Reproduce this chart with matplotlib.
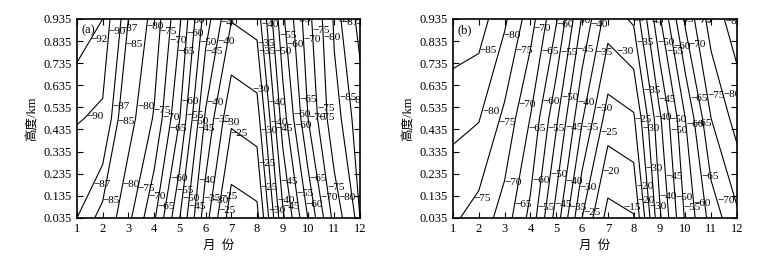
import matplotlib.pyplot as plt
import numpy as np

plt.rcParams['font.family'] = ['Liberation Serif', 'Noto Sans CJK SC']

months = np.arange(1, 13)
heights = [0.035, 0.485, 0.935]
yticks = [0.035, 0.135, 0.235, 0.335, 0.435, 0.535, 0.635, 0.735, 0.835, 0.935]

# panel (a) values, rows = heights (bottom, middle, top)
a_bottom = [87, 84.1, 76.3, 65.8, 50, 32, 17, 18.5, 44, 60.5, 76.7, 87]
a_middle = [90.2, 89.5, 82.1, 74.5, 60, 39.2, 25.9, 27.6, 52.5, 70.3, 83.7, 88.5]
a_top = [93.4, 92, 85, 78.3, 65.6, 47.5, 35.3, 37, 59, 73.5, 85.6, 91]
a_levels = [20, 25, 30, 35, 40, 45, 50, 55, 60, 65, 70, 75, 80, 85, 87, 90, 92]

# panel (b) values
b_bottom = [75.8, 73, 67.7, 58.5, 42.9, 25, 13.1, 14.6, 39, 55.7, 67, 74]
b_middle = [81.5, 80.3, 73.8, 64.8, 51, 35.5, 22.6, 24.3, 44, 60, 75, 82]
b_top = [88.5, 87.5, 80.9, 72.3, 60.6, 44.5, 32.4, 35.8, 54.2, 71, 82.4, 87.5]
b_levels = [15, 20, 25, 30, 35, 40, 45, 50, 55, 60, 65, 70, 75, 80, 85]

# where the contour labels sit (month, height)
a_spots = [(1.58, 0.84), (2.13, 0.88), (2.75, 0.89), (2.87, 0.82), (3.76, 0.90),
           (4.34, 0.875), (4.54, 0.84), (4.88, 0.79), (5.27, 0.93), (5.39, 0.87),
           (5.78, 0.83), (5.9, 0.79), (6.44, 0.92), (6.56, 0.83),
           (1.3, 0.5), (2.28, 0.54), (2.55, 0.47), (3.33, 0.54), (3.96, 0.52),
           (4.35, 0.49), (4.54, 0.44), (5.0, 0.56), (5.2, 0.5), (5.47, 0.47),
           (5.66, 0.44), (5.95, 0.56), (6.25, 0.48), (6.63, 0.465), (6.87, 0.42),
           (7.83, 0.62), (7.8, 0.785), (8.04, 0.825), (8.23, 0.91), (8.97, 0.86),
           (8.7, 0.79), (9.2, 0.82), (9.35, 0.93), (9.78, 0.84), (10.17, 0.885),
           (10.44, 0.85), (10.83, 0.93), (11.4, 0.92), (11.8, 0.91),
           (8.5, 0.56), (9.6, 0.57), (10.3, 0.53), (11.2, 0.58), (11.9, 0.57),
           (9.28, 0.5), (8.42, 0.465), (8.19, 0.43), (8.7, 0.44), (9.55, 0.455),
           (9.98, 0.49), (10.44, 0.49), (8.04, 0.28),
           (1.5, 0.193), (1.9, 0.115), (2.87, 0.185), (3.25, 0.17), (3.77, 0.13),
           (4.1, 0.085), (4.5, 0.215), (4.85, 0.16), (5.1, 0.125), (5.3, 0.085),
           (5.59, 0.207), (5.9, 0.125), (6.25, 0.115), (6.4, 0.07), (6.75, 0.13),
           (7.92, 0.17), (8.9, 0.2), (10.06, 0.215), (8.8, 0.115), (9.55, 0.145),
           (10.7, 0.17), (8.5, 0.07), (9.0, 0.085), (9.86, 0.094), (10.37, 0.125),
           (11.2, 0.13)]

b_spots = [(1.97, 0.795), (3.0, 0.86), (3.5, 0.79), (4.25, 0.89), (4.5, 0.785),
           (5.03, 0.91), (5.15, 0.785), (5.65, 0.93), (5.8, 0.795), (6.4, 0.91),
           (6.5, 0.785), (7.2, 0.77), (7.67, 0.93), (8.5, 0.93), (8.13, 0.83),
           (8.83, 0.825), (9.2, 0.785), (9.6, 0.81), (9.53, 0.93), (10.07, 0.82),
           (10.18, 0.93), (10.55, 0.93), (11.47, 0.92),
           (2.05, 0.52), (3.6, 0.545), (4.5, 0.56), (5.15, 0.58), (5.73, 0.56),
           (2.82, 0.465), (3.98, 0.44), (4.64, 0.44), (5.26, 0.445), (6.04, 0.445),
           (6.43, 0.53), (6.7, 0.42), (7.86, 0.48), (8.37, 0.61), (9.03, 0.57),
           (10.18, 0.575), (10.9, 0.59), (11.7, 0.6), (8.83, 0.49), (9.4, 0.48),
           (9.99, 0.455), (10.5, 0.465), (8.25, 0.44), (9.53, 0.43),
           (1.78, 0.125), (2.9, 0.2), (3.33, 0.095), (4.06, 0.205), (4.18, 0.085),
           (4.76, 0.23), (4.84, 0.095), (5.42, 0.2), (5.46, 0.085), (5.85, 0.175),
           (6.04, 0.06), (6.62, 0.25), (7.5, 0.06), (7.94, 0.175), (8.56, 0.26),
           (9.2, 0.22), (8.25, 0.115), (8.63, 0.085), (8.95, 0.13), (9.53, 0.125),
           (9.9, 0.08), (10.38, 0.1), (10.57, 0.22), (11.23, 0.115)]


def draw(ax, z, levels, spots, tag):
    cs = ax.contour(months, heights, z, levels=levels, colors='k', linewidths=0.8)
    labs = ax.clabel(cs, manual=spots, inline=False, fontsize=8,
                     fmt=lambda v: '\u2212%d' % v)
    for t in labs:
        t.set_rotation(0)
        t.set_ha('left')
        t.set_va('center')
    ax.set_xlim(1, 12)
    ax.set_ylim(0.035, 0.935)
    ax.set_xticks(months)
    ax.set_yticks(yticks)
    ax.set_yticklabels(['%.3f' % v for v in yticks])
    ax.tick_params(direction='in', top=True, right=True, length=4, labelsize=9)
    for s in ax.spines.values():
        s.set_linewidth(1.2)
    ax.set_xlabel('月  份', fontsize=9)
    ax.set_ylabel('高度/km', fontsize=9)
    ax.text(0.015, 0.975, tag, transform=ax.transAxes, fontsize=9, va='top', ha='left')


fig = plt.figure(figsize=(7.83, 2.57), dpi=100)
ax1 = fig.add_axes([0.0983, 0.152, 0.3614, 0.7743])
ax2 = fig.add_axes([0.5785, 0.152, 0.3627, 0.7743])

draw(ax1, np.array([a_bottom, a_middle, a_top]), a_levels, a_spots, '(a)')
draw(ax2, np.array([b_bottom, b_middle, b_top]), b_levels, b_spots, '(b)')

fig.savefig('out.png', dpi=100)
